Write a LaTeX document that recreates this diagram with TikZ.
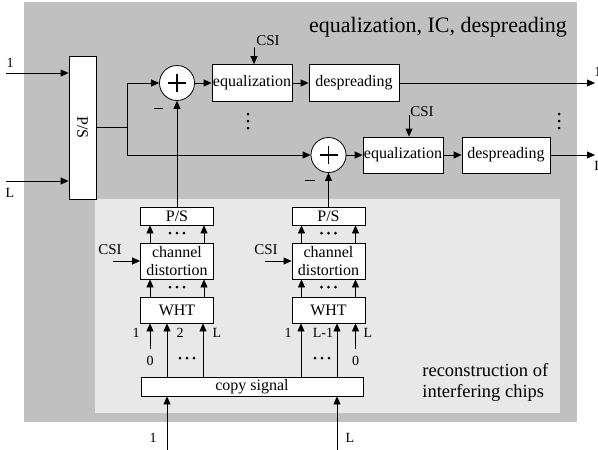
\documentclass[tikz,border=0pt]{standalone}
\usepackage{fontspec}
\usepackage{graphicx}
\setmainfont{Liberation Serif}
\usetikzlibrary{arrows.meta,calc}
\definecolor{darkbg}{RGB}{192,192,192}
\definecolor{lightbg}{RGB}{232,232,232}
\newcommand{\hdotsat}[2]{\foreach \dx in {-7,0,7} \fill (#1+\dx,#2) circle (1.5);}
\newcommand{\vdotsat}[2]{\foreach \dy in {-7,0,7} \fill (#1,#2+\dy) circle (1.5);}
\begin{document}
\begin{tikzpicture}[x=1pt,y=-1pt,line width=0.8pt,
  >={Triangle[length=8pt,width=7pt]},
  blk/.style={draw, fill=white, inner sep=0pt, align=center, font=\fontsize{16}{18}\selectfont},
  lbl/.style={inner sep=0pt, font=\fontsize{14}{16}\selectfont},
  csilbl/.style={inner sep=0pt, font=\fontsize{15}{17}\selectfont},
  sumnode/.style={draw, fill=white, circle, minimum size=35pt, inner sep=0pt}]
\useasboundingbox (0,0) rectangle (598,450);
% backgrounds
\fill[darkbg] (24,2) rectangle (577,422);
\fill[lightbg] (95,199) rectangle (560,413);
\node[font=\fontsize{22}{24}\selectfont, inner sep=0pt] (title) at (438,27) {equalization, IC, despreading};
\node[anchor=west, align=left, inner sep=0pt, font=\fontsize{18.5}{21}\selectfont] (recon) at (422,382) {reconstruction of\\interfering chips};
% input P/S
\node[blk, minimum width=27pt, minimum height=143pt] (ps) at (82.5,127.5) {\rotatebox{-90}{P/S}};
\coordinate (in1) at (6,73);
\coordinate (inL) at (6,181);
\draw[->] (in1) -- (in1 -| ps.west);
\draw[->] (inL) -- (inL -| ps.west);
\node[lbl] (lin1) at (10,63) {1};
\node[lbl] (linL) at (10,193) {L};
\coordinate (br) at (127,127.5);
% adders and chains
\node[sumnode] (s1) at (177,83) {};
\node[sumnode] (s2) at (328.5,155) {};
\draw (ps.east) -- (br);
\draw[->] (br) |- (s1.west);
\draw[->] (br) |- (s2.west);
\foreach \s in {s1,s2}{
  \draw[line width=1.4pt] ($(\s)+(-9,0)$) -- ($(\s)+(9,0)$) ($(\s)+(0,-9)$) -- ($(\s)+(0,9)$);
}
\draw[line width=1pt] (154,108) -- (163,108);
\draw[line width=1pt] (305,180) -- (315,180);
\node[blk, minimum width=80pt, minimum height=37pt] (eq1) at (252,83) {equalization};
\node[blk, minimum width=90pt, minimum height=37pt] (ds1) at (354,83) {despreading};
\node[blk, minimum width=80pt, minimum height=36pt] (eq2) at (403,155) {equalization};
\node[blk, minimum width=88pt, minimum height=36pt] (ds2) at (506,155) {despreading};
\coordinate (out1) at (595,83);
\coordinate (out2) at (595,155);
\draw[->] (s1.east) -- (eq1.west);
\draw[->] (eq1.east) -- (ds1.west);
\draw[->] (ds1.east) -- (out1);
\draw[->] (s2.east) -- (eq2.west);
\draw[->] (eq2.east) -- (ds2.west);
\draw[->] (ds2.east) -- (out2);
\node[lbl, anchor=west] (o1) at (594,72) {1};
\node[lbl, anchor=west] (o2) at (594,166) {L};
% CSI top
\node[csilbl] (csi1) at (268,41) {CSI};
\coordinate (c1) at (254,47);
\draw[->] (c1) -- (c1 |- eq1.north);
\node[csilbl] (csi2) at (422,112) {CSI};
\coordinate (c2) at (409,115);
\draw[->] (c2) -- (c2 |- eq2.north);
\vdotsat{248}{121}
\vdotsat{559}{121}
% reconstruction columns
\node[blk, minimum width=73pt, minimum height=18pt] (ps1) at (177,216) {P/S};
\node[blk, minimum width=73pt, minimum height=36pt] (ch1) at (177,261) {channel\\distortion};
\node[blk, minimum width=73pt, minimum height=26pt] (wht1) at (177,310) {WHT};
\node[blk, minimum width=73pt, minimum height=18pt] (ps2) at (328.5,216) {P/S};
\node[blk, minimum width=73pt, minimum height=36pt] (ch2) at (328.5,261) {channel\\distortion};
\node[blk, minimum width=73pt, minimum height=26pt] (wht2) at (328.5,310) {WHT};
\node[blk, minimum width=222pt, minimum height=19pt] (cp) at (252,386.5) {copy signal};
\draw[->] (ps1.north) -- (s1.south);
\draw[->] (ps2.north) -- (s2.south);
\foreach \c/\p/\w in {ch1/ps1/wht1, ch2/ps2/wht2}{
  \draw[->] ($(\c.north)+(-27,0)$) -- ($(\p.south)+(-27,0)$);
  \draw[->] ($(\c.north)+(27,0)$) -- ($(\p.south)+(27,0)$);
  \draw[->] ($(\w.north)+(-27,0)$) -- ($(\c.south)+(-27,0)$);
  \draw[->] ($(\w.north)+(27,0)$) -- ($(\c.south)+(27,0)$);
}
\hdotsat{177}{233}
\hdotsat{177}{287}
\hdotsat{328.5}{233}
\hdotsat{328.5}{287}
% CSI lower
\node[csilbl] (csi3) at (110,250) {CSI};
\coordinate (c3) at (113,261);
\draw[->] (c3) -- (ch1.west);
\node[csilbl] (csi4) at (266,250) {CSI};
\coordinate (c4) at (265,261);
\draw[->] (c4) -- (ch2.west);
% WHT inputs
\coordinate (a1) at ($(wht1.south)+(-10,0)$);
\coordinate (a2) at ($(wht1.south)+(26,0)$);
\coordinate (a3) at ($(wht2.south)+(-27.5,0)$);
\coordinate (a4) at ($(wht2.south)+(8.5,0)$);
\draw[<-] (a1) -- (a1 |- cp.north);
\draw[<-] (a2) -- (a2 |- cp.north);
\draw[<-] (a3) -- (a3 |- cp.north);
\draw[<-] (a4) -- (a4 |- cp.north);
\node[lbl] (z1) at (150,361) {0};
\node[lbl] (z2) at (355.5,361) {0};
\coordinate (z1t) at (150,349);
\coordinate (z2t) at (355.5,349);
\draw[->] (z1t) -- (z1t |- wht1.south);
\draw[->] (z2t) -- (z2t |- wht2.south);
\node[lbl] (l1) at (136,333) {1};
\node[lbl] (l2) at (180,333) {2};
\node[lbl] (l3) at (217,333) {L};
\node[lbl] (r1) at (288,333) {1};
\node[lbl] (r2) at (323,333) {L-1};
\node[lbl] (r3) at (368,333) {L};
\hdotsat{187}{358}
\hdotsat{322}{358}
% bottom inputs
\coordinate (b1) at (167,450);
\coordinate (bL) at (337,450);
\draw[->] (b1) -- (b1 |- cp.south);
\draw[->] (bL) -- (bL |- cp.south);
\node[lbl] (lb1) at (153,438) {1};
\node[lbl] (lbL) at (350,438) {L};
\end{tikzpicture}
\end{document}
